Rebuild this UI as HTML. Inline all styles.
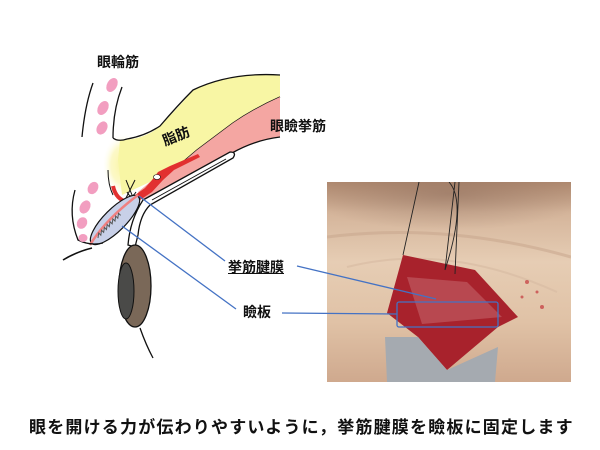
<!DOCTYPE html>
<html><head><meta charset="utf-8"><style>
html,body{margin:0;padding:0;background:#fff;}
body{width:600px;height:450px;position:relative;overflow:hidden;font-family:"Liberation Sans","Noto Sans CJK JP",sans-serif;}
.t{position:absolute;font-weight:bold;color:#111;white-space:nowrap;}
.photo{position:absolute;left:327px;top:182px;width:244px;height:200px;
background:linear-gradient(180deg,#b08a70 0%,#d4b49a 15%,#e6cdb4 40%,#e0c2a6 70%,#cfa98e 100%);}
</style></head><body>
<div class="photo">
<svg width="244" height="200" style="position:absolute;left:0;top:0">
<defs><radialGradient id="sh" cx="0.5" cy="0.2" r="0.6"><stop offset="0" stop-color="#8a6a5a" stop-opacity="0.5"/><stop offset="1" stop-color="#8a6a5a" stop-opacity="0"/></radialGradient></defs>
<rect x="0" y="0" width="244" height="60" fill="url(#sh)"/>
<path d="M0 55 Q120 40 244 75" stroke="#c9a890" stroke-width="3" fill="none" opacity="0.6"/>
<path d="M20 85 Q120 60 230 110" stroke="#d8bca4" stroke-width="2" fill="none" opacity="0.7"/>
<polygon points="76,73 148,88 191,135 171,145 120,188 91,155 60,131" fill="#a8222c"/>
<polygon points="80,95 140,100 175,135 95,142" fill="#c46870" opacity="0.55"/>
<polygon points="58,155 91,155 120,188 171,165 168,200 60,200" fill="#a5aab0"/>
<path d="M76 73 L92 0 M118 88 L128 0 M118 88 Q140 20 122 0 M128 92 L132 0" stroke="#222" stroke-width="0.9" fill="none"/>
<g fill="#c0202a" opacity="0.6"><circle cx="200" cy="100" r="2"/><circle cx="210" cy="110" r="1.5"/><circle cx="195" cy="115" r="1.5"/><circle cx="215" cy="125" r="2"/></g>
</svg>
</div>
<svg width="600" height="450" style="position:absolute;left:0;top:0">
<defs>
<radialGradient id="glow" cx="0.5" cy="0.5" r="0.5"><stop offset="0" stop-color="#faf4a0"/><stop offset="0.6" stop-color="#fbf6b0" stop-opacity="0.7"/><stop offset="1" stop-color="#fff" stop-opacity="0"/></radialGradient>
</defs>
<ellipse cx="124" cy="165" rx="22" ry="32" fill="url(#glow)"/>
<!-- yellow fat -->
<path d="M120 140 Q140 140 155 130 Q175 112 193 90 Q230 72 280 75 L280 97 Q255 108 233 123 L197 150 L177 167 L150 182 L122 195 L118 160 Z" fill="#f8f6a4"/>
<path d="M113 138 Q118 142 127 139 Q145 136 160 126 Q178 105 193 90 Q230 72 280 75" stroke="#111" stroke-width="1.3" fill="none"/>
<path d="M280 97 Q255 108 233 123 L197 150 L177 167" stroke="#111" stroke-width="1.3" fill="none"/>
<!-- levator pink -->
<path d="M280 97 Q255 108 233 123 L197 150 L177 167 L150 182 L138 192 L142 200 L160 190 L232 153 Q255 140 280 137 Z" fill="#f4a6a2"/>
<path d="M280 137 Q255 140 232 153" stroke="#111" stroke-width="1.3" fill="none"/>
<!-- red tendon -->
<path d="M128 200 L145 188 L152 180 L158 172 L170 166 L198 154 L200 157 L174 170 L163 180 L152 192 L134 204 Z" fill="#e23030"/>
<ellipse cx="157" cy="177" rx="3.5" ry="2.5" fill="#fff" stroke="#111" stroke-width="0.6"/>
<path d="M113 186 Q116 200 128 202" stroke="#e23030" stroke-width="4" fill="none"/>
<path d="M126 180 L134 200 M135 180 L126 198 M127 192 Q131 200 136 192" stroke="#111" stroke-width="1" fill="none"/>
<!-- white tube -->
<path d="M143 200 L230 152 Q237 152 233 158 L150 205 Q140 215 138 235 L135 247 L128 245 Q130 220 143 200 Z" fill="#fff" stroke="#111" stroke-width="1.3"/>
<path d="M152 200 L226 159" stroke="#111" stroke-width="1" fill="none"/>
<!-- tarsus -->
<ellipse cx="115" cy="220" rx="33" ry="11" transform="rotate(-45 115 220)" fill="#c8d0e8" stroke="#111" stroke-width="1.2"/>
<path d="M90 245 Q105 220 138 195" stroke="#f08080" stroke-width="2.5" fill="none"/>
<path d="M0 0 l4 -3 l0 3 l4 -3 l0 3 l4 -3 l0 3 l4 -3 l0 3 l4 -3 l0 3 l4 -3 l0 3 l4 -3 l0 3 l4 -3 l0 3" stroke="#555" stroke-width="1" fill="none" transform="translate(98 238) rotate(-45)"/>
<!-- skin lines -->
<path d="M93 83 Q85 105 82 137" stroke="#111" stroke-width="1.3" fill="none"/>
<path d="M122 87 Q113 110 113 138" stroke="#111" stroke-width="1.3" fill="none"/>
<path d="M75 190 Q68 215 78 240 Q90 246 103 243" stroke="#111" stroke-width="1.3" fill="none"/>
<path d="M63 260 Q76 252 92 248" stroke="#111" stroke-width="1.6" fill="none"/>
<path d="M108 170 Q108 185 113 195" stroke="#111" stroke-width="1" fill="none"/>
<!-- pink muscle ovals -->
<g fill="#f29ec0">
<ellipse cx="112" cy="85" rx="5" ry="7.5" transform="rotate(30 112 85)"/>
<ellipse cx="103" cy="108" rx="5" ry="7.5" transform="rotate(30 103 108)"/>
<ellipse cx="102" cy="128" rx="5" ry="7" transform="rotate(30 102 128)"/>
<ellipse cx="93" cy="188" rx="5" ry="6.5" transform="rotate(30 93 188)"/>
<ellipse cx="85" cy="207" rx="5" ry="7" transform="rotate(30 85 207)"/>
<ellipse cx="82" cy="223" rx="5" ry="6" transform="rotate(30 82 223)"/>
<ellipse cx="83" cy="238" rx="4.5" ry="4"/>
</g>
<!-- eye -->
<ellipse cx="135" cy="286" rx="16" ry="41" fill="#7a6858" stroke="#111" stroke-width="1.3"/>
<ellipse cx="126" cy="291" rx="8" ry="28" fill="#4a4a48" stroke="#111" stroke-width="1"/>
<path d="M140 328 Q146 345 153 358" stroke="#111" stroke-width="1.3" fill="none"/>
<!-- leader lines -->
<g stroke="#4472c4" stroke-width="1.3" fill="none">
<line x1="139" y1="196" x2="225" y2="261"/>
<line x1="122" y1="226" x2="236" y2="309"/>
<line x1="297" y1="266" x2="436" y2="299"/>
<line x1="282" y1="313" x2="397" y2="314"/>
<rect x="397" y="302" width="101" height="25" rx="2"/>
</g>
</svg>
<div class="t" style="left:97px;top:52px;font-size:14px;">眼輪筋</div>
<div class="t" style="left:162px;top:126px;font-size:14px;transform:rotate(-22deg);">脂肪</div>
<div class="t" style="left:270px;top:116px;font-size:14px;">眼瞼挙筋</div>
<div class="t" style="left:228px;top:257px;font-size:14px;text-decoration:underline;">挙筋腱膜</div>
<div class="t" style="left:243px;top:302px;font-size:14px;">瞼板</div>
<div class="t" style="left:29px;top:413px;font-size:17px;letter-spacing:1.2px;">眼を開ける力が伝わりやすいように，挙筋腱膜を瞼板に固定します</div>
</body></html>
